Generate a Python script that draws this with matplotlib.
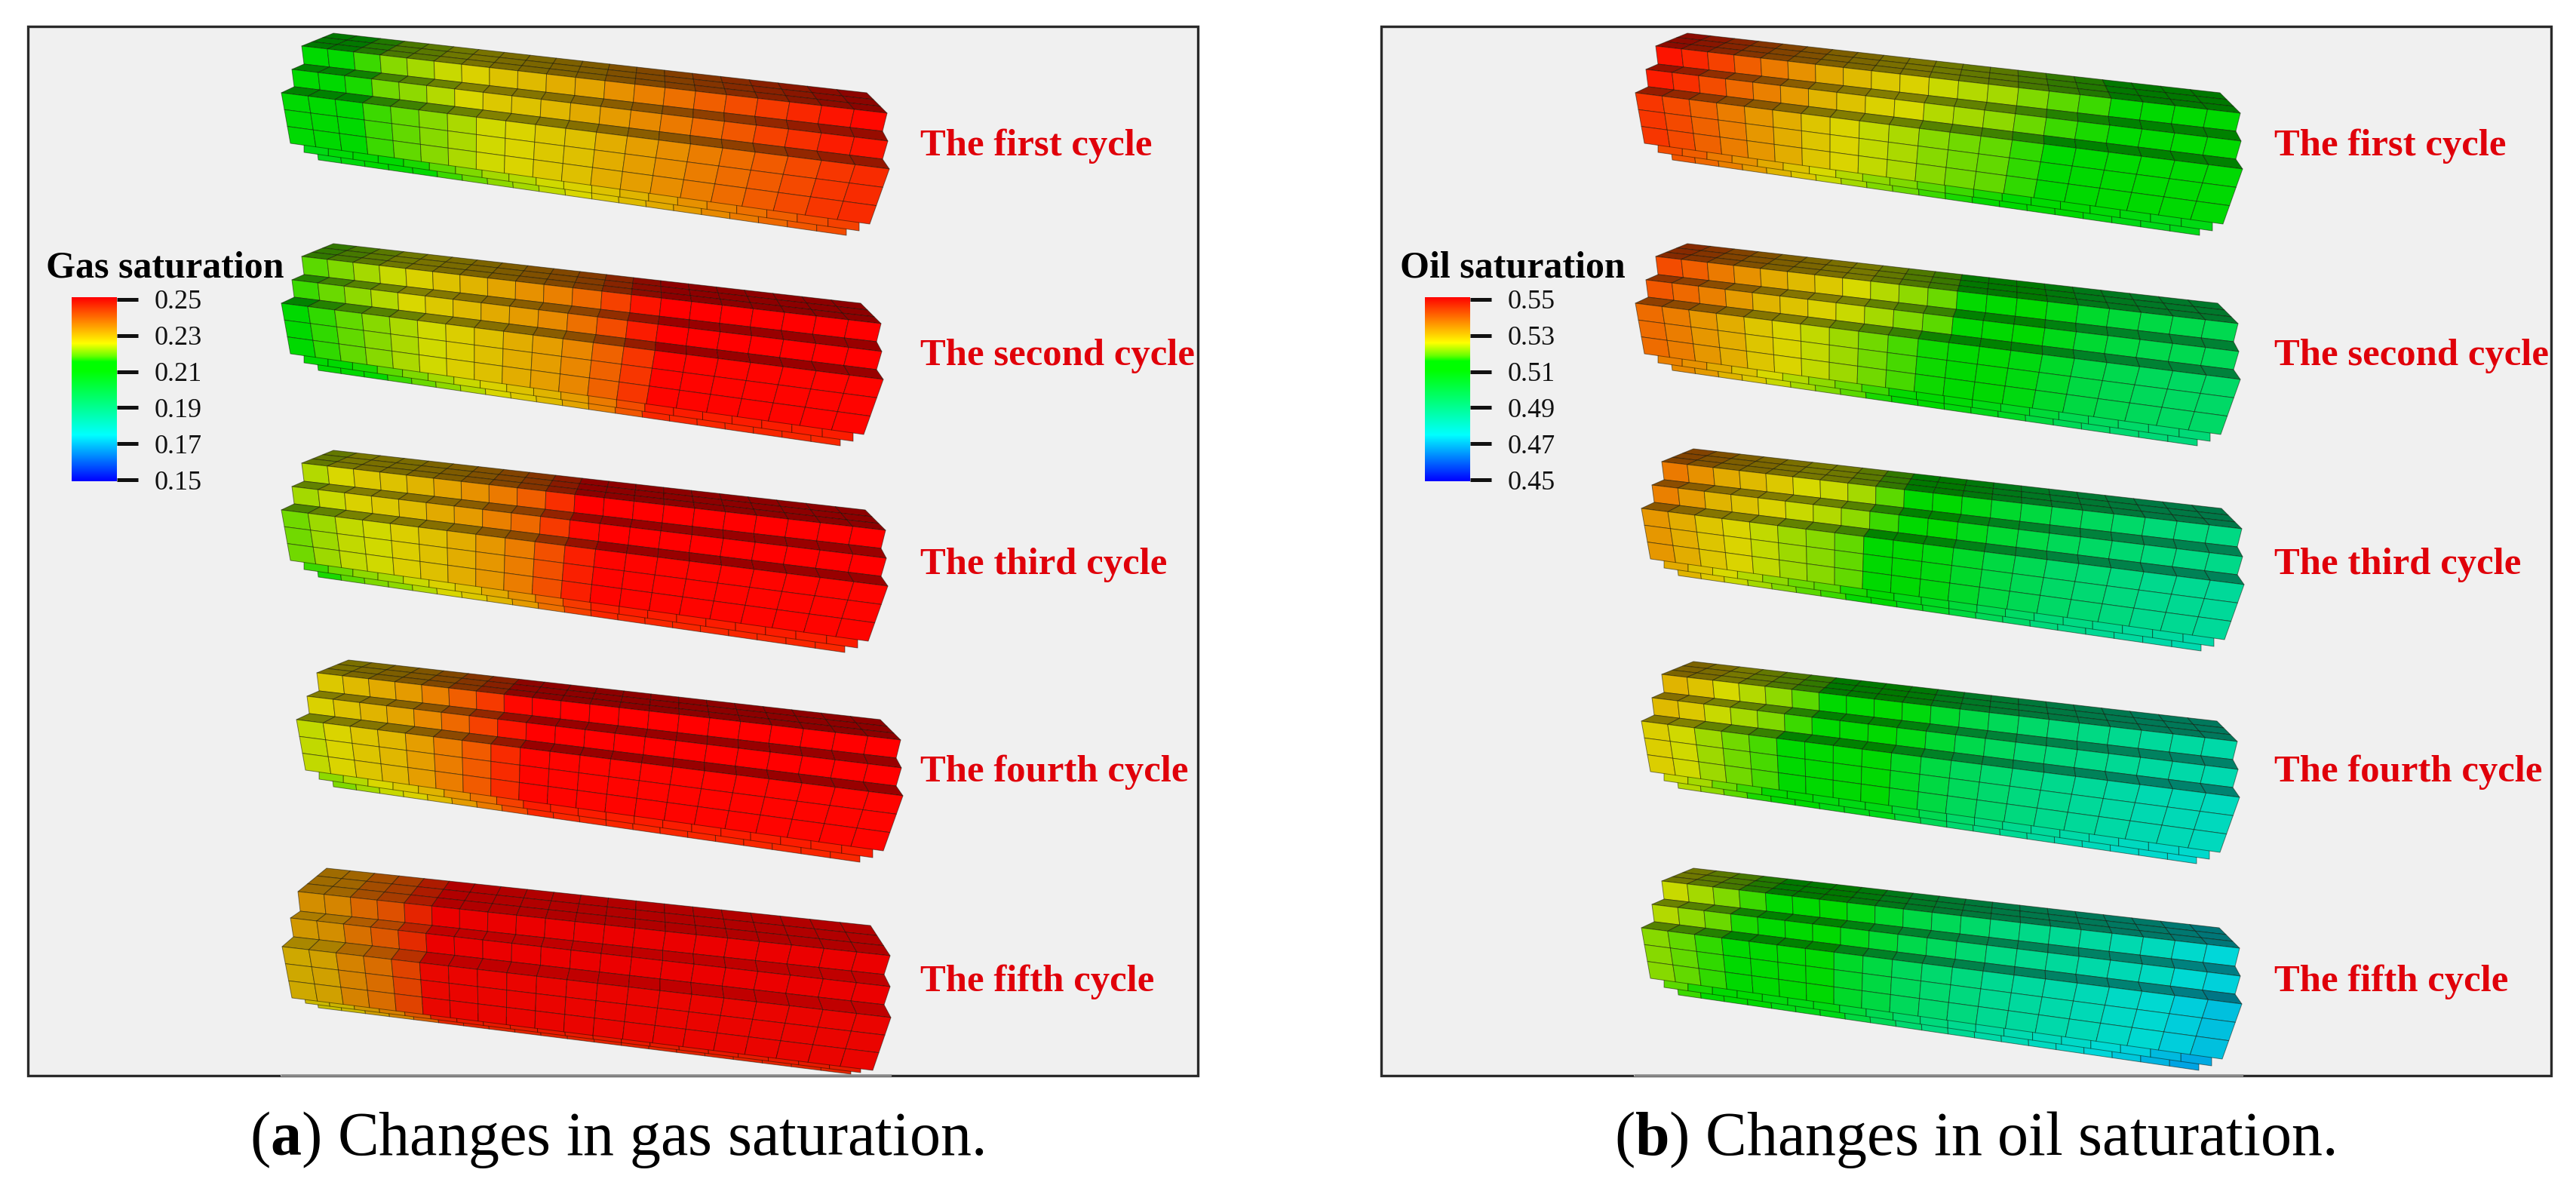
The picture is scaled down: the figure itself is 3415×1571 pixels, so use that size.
"""Gas and oil saturation along the five cycles, drawn as stepped 3D grid blocks."""

import matplotlib

matplotlib.use("Agg")
import matplotlib.pyplot as plt
import numpy as np
from matplotlib.collections import PolyCollection
from matplotlib.colors import LinearSegmentedColormap, Normalize

# saturation per grid column, injection end to far end
GAS_CYCLE_1 = [.210, .212, .214, .2175, .219, .221, .223, .225, .226, .2275,
               .229, .231, .233, .235, .237, .239, .241, .243, .245, .246]
GAS_CYCLE_2 = [.215, .217, .219, .221, .223, .225, .227, .229, .231, .233,
               .236, .240, .245, .250, .250, .250, .250, .250, .250, .250]
GAS_CYCLE_3 = [.220, .222, .224, .225, .227, .229, .231, .234, .237, .242,
               .247, .250, .250, .250, .250, .250, .250, .250, .250, .250]
GAS_CYCLE_4 = [.224, .226, .228, .230, .233, .237, .241, .246, .250, .250,
               .250, .250, .250, .250, .250, .250, .250, .250, .250, .250]
GAS_CYCLE_5 = [.230, .231, .235, .238, .243, .2495, .250, .250, .250, .250,
               .250, .250, .250, .250, .250, .250, .250, .250, .250, .250]
OIL_CYCLE_1 = [.545, .543, .540, .537, .534, .531, .528, .526, .524, .523,
               .521, .520, .519, .517, .515, .514, .512, .511, .510, .510]
OIL_CYCLE_2 = [.539, .537, .534, .531, .528, .526, .524, .522, .520, .518,
               .516, .512, .510, .508, .504, .500, .498, .496, .495, .494]
OIL_CYCLE_3 = [.534, .531, .528, .526, .524, .522, .521, .519, .515, .510,
               .508, .504, .500, .497, .494, .492, .490, .488, .487, .486]
OIL_CYCLE_4 = [.527, .525, .522, .520, .518, .515, .511, .510, .510, .505,
               .500, .496, .493, .490, .488, .486, .484, .482, .481, .480]
OIL_CYCLE_5 = [.521, .519, .517, .514, .511, .510, .510, .504, .500, .496,
               .493, .490, .487, .485, .483, .481, .479, .477, .474, .472]
GAS_CYCLES = [GAS_CYCLE_1, GAS_CYCLE_2, GAS_CYCLE_3, GAS_CYCLE_4, GAS_CYCLE_5]
OIL_CYCLES = [OIL_CYCLE_1, OIL_CYCLE_2, OIL_CYCLE_3, OIL_CYCLE_4, OIL_CYCLE_5]

CYCLE_LABELS = ["The first cycle", "The second cycle", "The third cycle",
                "The fourth cycle", "The fifth cycle"]
GAS_TICKS = [0.15, 0.17, 0.19, 0.21, 0.23, 0.25]
OIL_TICKS = [0.45, 0.47, 0.49, 0.51, 0.53, 0.55]

W, H = 3415, 1571
N_COLS = 20
LABEL_BASELINES = [206, 484, 761, 1036, 1314]

# block outline in pixels: edge name -> (left end, right end)
BLOCK_EDGES = {
    "rear": ((442, 44), (1149, 123)),
    "back_top": ((400, 61), (1176, 150)),
    "back_bot": ((403, 85), (1170, 174)),
    "mid_top": ((387, 92), (1177, 187)),
    "mid_bot": ((390, 115), (1170, 211)),
    "front_top": ((373, 123), (1179, 224)),
    "front_bot": ((385, 190), (1153, 297)),
    "strip1_top": ((403, 185), (1139, 290)),
    "strip1_bot": ((403, 202), (1139, 306)),
    "strip2_top": ((420, 195), (1122, 296)),
    "strip2_bot": ((422, 212), (1122, 312)),
}
# the last gas block was rendered from a slightly higher viewpoint
GAS_LAST_EDGES = {
    "rear": ((433, 1151), (1154, 1227)),
    "back_top": ((395, 1182), (1180, 1267)),
    "back_bot": ((398, 1208), (1172, 1292)),
    "mid_top": ((385, 1217), (1180, 1308)),
    "mid_bot": ((389, 1242), (1172, 1332)),
    "front_top": ((374, 1255), (1181, 1349)),
    "front_bot": ((387, 1323), (1157, 1419)),
    "strip1_top": ((403, 1315), (1141, 1407)),
    "strip1_bot": ((405, 1330), (1141, 1422)),
    "strip2_top": ((420, 1321), (1128, 1409)),
    "strip2_bot": ((422, 1336), (1128, 1424)),
}

BAR_CMAP = LinearSegmentedColormap.from_list("sim", [
    (0.0, "#0000ff"), (0.25, "#00ffff"), (0.60, "#00ff00"), (0.65, "#00ff00"),
    (0.68, "#66ff00"), (0.75, "#ffff00"), (1.0, "#ff0000"),
])

plt.rcParams["font.family"] = ["Liberation Serif", "DejaVu Serif"]
plt.rcParams["mathtext.fontset"] = "custom"
plt.rcParams["mathtext.rm"] = "Liberation Serif"
plt.rcParams["mathtext.bf"] = "Liberation Serif:bold"


def face_colors(values, norm, shade):
    rgb = BAR_CMAP(norm(values))[:, :3]
    rgb = rgb * (1 - 0.15 * rgb[:, [1]])
    return np.clip(rgb * shade, 0, 1)


def draw_face(ax, edges, top, bottom, rows, values, norm, shade, lx, rx, dy):
    """Grid of quads between two block edges, one column per saturation value."""
    widths = np.linspace(36, 46, N_COLS)
    t = np.concatenate([[0], np.cumsum(widths)]) / widths.sum()
    shift = np.array([[lx, dy], [rx, dy]], dtype=float)
    a = np.array(edges[top], dtype=float) + shift
    b = np.array(edges[bottom], dtype=float) + shift
    polys, cols = [], []
    for r in range(rows):
        upper = a + (b - a) * r / rows
        lower = a + (b - a) * (r + 1) / rows
        for c in range(N_COLS):
            t0, t1 = t[c], t[c + 1]
            polys.append([
                upper[0] + (upper[1] - upper[0]) * t0,
                upper[0] + (upper[1] - upper[0]) * t1,
                lower[0] + (lower[1] - lower[0]) * t1,
                lower[0] + (lower[1] - lower[0]) * t0,
            ])
            cols.append(values[c])
    ax.add_collection(PolyCollection(
        polys, facecolors=face_colors(np.array(cols), norm, shade),
        edgecolors=(0.05, 0.05, 0, 0.5), linewidths=0.7,
    ))


def draw_block(ax, edges, values, norm, lx, rx, dy, bright=1.0, top_shade=0.6):
    v = np.asarray(values)
    step = norm.vmax - norm.vmin
    draw_face(ax, edges, "rear", "back_top", 3, v + 0.03 * step, norm, top_shade * 0.92 * bright, lx, rx, dy)
    draw_face(ax, edges, "back_top", "back_bot", 1, v + 0.03 * step, norm, bright, lx, rx, dy)
    draw_face(ax, edges, "back_bot", "mid_top", 1, v + 0.02 * step, norm, top_shade * bright, lx, rx, dy)
    draw_face(ax, edges, "mid_top", "mid_bot", 1, v + 0.02 * step, norm, bright, lx, rx, dy)
    draw_face(ax, edges, "mid_bot", "front_top", 1, v, norm, top_shade * bright, lx, rx, dy)
    draw_face(ax, edges, "strip2_top", "strip2_bot", 1, v - 0.04 * step, norm, bright, lx, rx, dy)
    draw_face(ax, edges, "strip1_top", "strip1_bot", 1, v - 0.03 * step, norm, bright, lx, rx, dy)
    draw_face(ax, edges, "front_top", "front_bot", 3, v - 0.005 * step, norm, bright, lx, rx, dy)


def draw_bar(fig, x0, x1, title, title_x, ticks):
    """Legend bar with its own value axis, placed in figure pixels."""
    bar = fig.add_axes([x0 / W, 1 - 638 / H, (x1 - x0) / W, 244 / H])
    vmin, vmax = ticks[0], ticks[-1]
    grad = np.linspace(1, 0, 256).reshape(-1, 1)
    bar.imshow(grad, cmap=BAR_CMAP, vmin=0, vmax=1, aspect="auto",
               extent=[0, 1, vmin - 0.0008, vmax + 0.0012])
    bar.set_xticks([])
    bar.yaxis.tick_right()
    bar.set_yticks(ticks, [f"{t:.2f}" for t in ticks])
    bar.tick_params(axis="y", length=20, width=3.6, pad=16, labelsize=26,
                    colors="#111111")
    for spine in bar.spines.values():
        spine.set_visible(False)
    fig.text(title_x / W, 1 - 367 / H, title, fontsize=36, fontweight="bold",
             color="black", va="baseline")


def draw_panel(fig, ax, left, right, gap, cycles, ticks, placements, title,
               title_x, bar_x, label_x, caption, caption_x):
    ax.add_patch(plt.Rectangle((left, 35), right - left, 1391, fc="#f0f0f0",
                               ec="#2a2a2a", lw=2.4))
    # the pasted model image clips the bottom rule over the middle of the frame
    ax.plot(gap, [1426, 1426], color="#f0f0f0", lw=1.6, solid_capstyle="butt")
    ax.plot(gap, [1425, 1425], color="#555555", lw=1.0, solid_capstyle="butt")
    norm = Normalize(ticks[0], ticks[-1])
    for values, place in zip(cycles, placements):
        edges, lx, rx, dy, bright, top_shade = place
        draw_block(ax, edges, values, norm, lx, rx, dy, bright, top_shade)
    for label, base in zip(CYCLE_LABELS, LABEL_BASELINES):
        ax.text(label_x, base, label, fontsize=36.5, fontweight="bold",
                color="#e0000a", va="baseline")
    draw_bar(fig, bar_x, bar_x + 60, title, title_x, ticks)
    ax.text(caption_x, 1531, caption, fontsize=59, color="black", va="baseline")


fig = plt.figure(figsize=(W / 100, H / 100), dpi=100)
ax = fig.add_axes([0, 0, 1, 1])

gas_places = [
    (BLOCK_EDGES, 0, 0, 0, 1.0, 0.6),
    (BLOCK_EDGES, 0, -8, 279, 1.0, 0.6),
    (BLOCK_EDGES, 0, -2, 553, 1.0, 0.6),
    (BLOCK_EDGES, 20, 18, 831, 1.0, 0.6),
    (GAS_LAST_EDGES, 0, 0, 0, 0.92, 0.82),
]
oil_places = [
    (BLOCK_EDGES, 1795, 1794, 0, 1.0, 0.6),
    (BLOCK_EDGES, 1795, 1791, 279, 1.0, 0.6),
    (BLOCK_EDGES, 1803, 1796, 551, 1.0, 0.6),
    (BLOCK_EDGES, 1803, 1790, 833, 1.0, 0.6),
    (BLOCK_EDGES, 1803, 1793, 1107, 1.0, 0.6),
]

draw_panel(fig, ax, 37, 1588, [372, 1182], GAS_CYCLES, GAS_TICKS, gas_places,
           "Gas saturation", 61, 95, 1220, r"($\mathbf{a}$) Changes in gas saturation.", 331)
draw_panel(fig, ax, 1831, 3382, [2166, 2974], OIL_CYCLES, OIL_TICKS, oil_places,
           "Oil saturation", 1856, 1889, 3015, r"($\mathbf{b}$) Changes in oil saturation.", 2140)

ax.set_xlim(0, W)
ax.set_ylim(H, 0)
ax.axis("off")
fig.savefig("out.png", dpi=100)
plt.close(fig)
